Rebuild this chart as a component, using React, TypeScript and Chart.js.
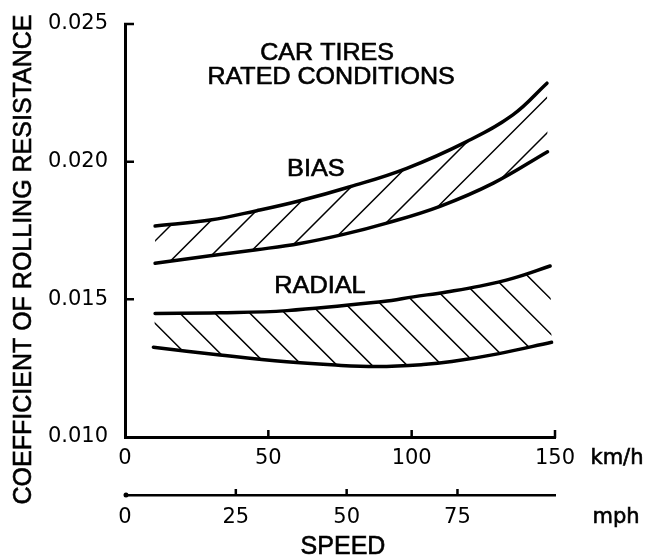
import React, { useEffect, useRef } from 'react';
import { Chart, registerables } from 'chart.js';

Chart.register(...registerables);

// ---- Data ----
const biasUpperSpeed = [10.5, 29.7, 46.0, 61.0, 78.5, 98.3, 119.2, 135.3, 147.2];
const biasUpperCoef = [0.01766, 0.01788, 0.01822, 0.01858, 0.01909, 0.01976, 0.02073, 0.0217, 0.02285];

const biasLowerSpeed = [10.5, 29.7, 45.9, 61.0, 76.2, 91.3, 109.9, 128.5, 147.4];
const biasLowerCoef = [0.01631, 0.01658, 0.0168, 0.01703, 0.01736, 0.01777, 0.01838, 0.01922, 0.02036];

const radialUpperSpeed = [10.5, 33.1, 56.5, 90.0, 100.6, 112.2, 123.8, 135.5, 148.3];
const radialUpperCoef = [0.01449, 0.01451, 0.01459, 0.01492, 0.01509, 0.01527, 0.01548, 0.01577, 0.01621];

const radialLowerSpeed = [9.9, 33.1, 56.4, 72.0, 88.0, 104.0, 114.0, 130.0, 148.8];
const radialLowerCoef = [0.01326, 0.01298, 0.01273, 0.01262, 0.01256, 0.01263, 0.01274, 0.01302, 0.01344];

const kmhTicks = [0, 50, 100, 150];
const mphTicks = [0, 25, 50, 75];
const coefTicks = [0.01, 0.015, 0.02, 0.025];

const seriesNames = ['Bias upper', 'Bias lower', 'Radial upper', 'Radial lower'];
const titleLines = ['CAR TIRES', 'RATED CONDITIONS'];
const bandLabels = ['BIAS', 'RADIAL'];
const yTitle = 'COEFFICIENT OF ROLLING RESISTANCE';
const xTitle = 'SPEED';
const unitKmh = 'km/h';
const unitMph = 'mph';

// ---- Layout / style ----
const TICK_FONT = '"DejaVu Sans", sans-serif';
const TEXT_FONT = '"Liberation Sans", Arial, sans-serif';
const INK = '#000';

const zip = (xs: number[], ys: number[]) => xs.map((x, i) => ({ x, y: ys[i] }));

function drawText(
  ctx: CanvasRenderingContext2D,
  s: string,
  x: number,
  y: number,
  font: string,
  sx = 1,
  rot = 0,
  align: CanvasTextAlign = 'center'
) {
  ctx.save();
  ctx.translate(x, y);
  if (rot) ctx.rotate(rot);
  ctx.scale(sx, 1);
  ctx.font = font;
  ctx.fillStyle = INK;
  ctx.strokeStyle = INK;
  ctx.lineWidth = 0.6;
  ctx.textAlign = align;
  ctx.textBaseline = 'middle';
  ctx.fillText(s, 0, 0);
  ctx.strokeText(s, 0, 0);
  ctx.restore();
}

function bandPath(ctx: CanvasRenderingContext2D, up: any[], low: any[]) {
  ctx.beginPath();
  ctx.moveTo(up[0].x, up[0].y);
  for (let i = 0; i < up.length - 1; i++) {
    const a = up[i];
    const b = up[i + 1];
    if (a.cp2x !== undefined && b.cp1x !== undefined) ctx.bezierCurveTo(a.cp2x, a.cp2y, b.cp1x, b.cp1y, b.x, b.y);
    else ctx.lineTo(b.x, b.y);
  }
  const n = low.length;
  ctx.lineTo(low[n - 1].x, low[n - 1].y);
  for (let i = n - 1; i > 0; i--) {
    const a = low[i];
    const b = low[i - 1];
    if (a.cp1x !== undefined && b.cp2x !== undefined) ctx.bezierCurveTo(a.cp1x, a.cp1y, b.cp2x, b.cp2y, b.x, b.y);
    else ctx.lineTo(b.x, b.y);
  }
  ctx.closePath();
}

const bands = [
  { up: 0, low: 1, dir: 1, phase: 247, gap: 35.5 },
  { up: 2, low: 3, dir: -1, phase: 234.3, gap: 35 },
];

const annotations = [
  { text: titleLines[0], x: 70.5, y: 0.02391, size: 23, sx: 1.09 },
  { text: titleLines[1], x: 71.9, y: 0.02304, size: 23, sx: 1.09 },
  { text: bandLabels[0], x: 66.6, y: 0.0197, size: 23, sx: 1.1 },
  { text: bandLabels[1], x: 68.0, y: 0.01545, size: 23, sx: 1.1 },
];

const decorPlugin = {
  id: 'decor',
  afterDatasetsDraw(chart: any) {
    const ctx: CanvasRenderingContext2D = chart.ctx;
    const area = chart.chartArea;
    for (const b of bands) {
      const mu = chart.getDatasetMeta(b.up);
      const ml = chart.getDatasetMeta(b.low);
      if (mu.dataset && mu.dataset.updateControlPoints) mu.dataset.updateControlPoints(area, 'x');
      if (ml.dataset && ml.dataset.updateControlPoints) ml.dataset.updateControlPoints(area, 'x');
      ctx.save();
      bandPath(ctx, mu.data, ml.data);
      ctx.clip();
      ctx.beginPath();
      if (b.dir > 0) {
        const lo = area.left + area.top;
        const hi = area.right + area.bottom;
        const base = lo + b.phase;
        let c = base - Math.ceil((base - lo) / b.gap) * b.gap;
        for (; c <= hi; c += b.gap) {
          ctx.moveTo(c - area.bottom, area.bottom);
          ctx.lineTo(c - area.top, area.top);
        }
      } else {
        const lo = area.top - area.right;
        const hi = area.bottom - area.left;
        const base = area.top - area.left + b.phase;
        let d = base - Math.ceil((base - lo) / b.gap) * b.gap;
        for (; d <= hi; d += b.gap) {
          ctx.moveTo(area.left, area.left + d);
          ctx.lineTo(area.right, area.right + d);
        }
      }
      ctx.lineWidth = 1.5;
      ctx.strokeStyle = INK;
      ctx.stroke();
      ctx.restore();
    }
  },
  afterDraw(chart: any) {
    const ctx: CanvasRenderingContext2D = chart.ctx;
    const y = chart.scales.y;
    const x = chart.scales.x;
    const x2 = chart.scales.x2;

    // inward tick marks
    ctx.save();
    ctx.strokeStyle = INK;
    ctx.lineWidth = 2.5;
    ctx.beginPath();
    for (const v of coefTicks.slice(1)) {
      const py = y.getPixelForValue(v);
      ctx.moveTo(y.right - 1, py);
      ctx.lineTo(y.right + 9, py);
    }
    for (const v of kmhTicks.slice(1)) {
      const px = x.getPixelForValue(v);
      ctx.moveTo(px, x.top + 1);
      ctx.lineTo(px, x.top - 7);
    }
    for (const v of mphTicks.slice(1)) {
      const px = x2.getPixelForValue(v);
      ctx.moveTo(px, x2.top + 1);
      ctx.lineTo(px, x2.top - 6);
    }
    ctx.stroke();
    ctx.beginPath();
    ctx.arc(x2.left + 1, x2.top, 2.5, 0, Math.PI * 2);
    ctx.fillStyle = INK;
    ctx.fill();
    ctx.restore();

    // texts
    drawText(ctx, yTitle, 24, 259.5, `25px ${TEXT_FONT}`, 1, -Math.PI / 2);
    drawText(ctx, xTitle, 343, 547, `25px ${TEXT_FONT}`);
    drawText(ctx, unitKmh, 617, x.top + 22, `21px ${TICK_FONT}`);
    drawText(ctx, unitMph, 616, x2.top + 23, `21px ${TICK_FONT}`);
    for (const a of annotations) {
      drawText(ctx, a.text, x.getPixelForValue(a.x), y.getPixelForValue(a.y), `${a.size}px ${TEXT_FONT}`, a.sx);
    }
  },
};

export default function App() {
  const ref = useRef<HTMLCanvasElement>(null);

  useEffect(() => {
    if (!ref.current) return;
    const lineStyle = {
      borderColor: INK,
      borderWidth: 3.5,
      pointRadius: 0,
      tension: 0.4,
      fill: false,
      borderCapStyle: 'round' as const,
    };
    const tickFont = { family: TICK_FONT, size: 21, lineHeight: 1.2 };
    const chart = new Chart(ref.current, {
      type: 'line',
      data: {
        datasets: [
          { label: seriesNames[0], data: zip(biasUpperSpeed, biasUpperCoef), ...lineStyle },
          { label: seriesNames[1], data: zip(biasLowerSpeed, biasLowerCoef), ...lineStyle },
          { label: seriesNames[2], data: zip(radialUpperSpeed, radialUpperCoef), ...lineStyle },
          { label: seriesNames[3], data: zip(radialLowerSpeed, radialLowerCoef), ...lineStyle },
        ],
      },
      options: {
        animation: false,
        responsive: false,
        devicePixelRatio: 1,
        layout: { padding: { left: 0, top: 24, right: 93, bottom: 0 } },
        plugins: { legend: { display: false }, tooltip: { enabled: false } },
        scales: {
          x: {
            type: 'linear',
            position: 'bottom',
            weight: 0,
            min: 0,
            max: 150,
            grid: { display: false, drawTicks: false },
            border: { display: true, color: INK, width: 3 },
            ticks: {
              color: INK,
              padding: 9,
              autoSkip: false,
              maxRotation: 0,
              font: tickFont,
              callback: (v: any) => String(v),
            },
            afterBuildTicks: (s: any) => {
              s.ticks = kmhTicks.map((v) => ({ value: v }));
            },
            afterFit: (s: any) => {
              s.height = 58;
            },
          },
          x2: {
            type: 'linear',
            position: 'bottom',
            weight: 1,
            min: 0,
            max: 97,
            grid: { display: false, drawTicks: false },
            border: { display: true, color: INK, width: 2.5 },
            ticks: {
              color: INK,
              padding: 10,
              autoSkip: false,
              maxRotation: 0,
              font: tickFont,
              callback: (v: any) => String(v),
            },
            afterBuildTicks: (s: any) => {
              s.ticks = mphTicks.map((v) => ({ value: v }));
            },
            afterFit: (s: any) => {
              s.height = 63;
            },
          },
          y: {
            type: 'linear',
            position: 'left',
            min: 0.01,
            max: 0.025,
            grid: { display: false, drawTicks: false },
            border: { display: true, color: INK, width: 3 },
            ticks: {
              color: INK,
              padding: 17,
              autoSkip: false,
              font: tickFont,
              callback: (v: any) => Number(v).toFixed(3),
            },
            afterBuildTicks: (s: any) => {
              s.ticks = coefTicks.map((v) => ({ value: v }));
            },
            afterFit: (s: any) => {
              s.width = 125;
              s.paddingTop = 0;
              s.paddingBottom = 0;
            },
          },
        },
      },
      plugins: [decorPlugin],
    } as any);
    return () => chart.destroy();
  }, []);

  return (
    <div style={{ position: 'fixed', left: 0, top: 0, width: 648, height: 558, background: '#fff' }}>
      <canvas ref={ref} width={648} height={558} style={{ display: 'block', width: 648, height: 558 }} />
    </div>
  );
}
